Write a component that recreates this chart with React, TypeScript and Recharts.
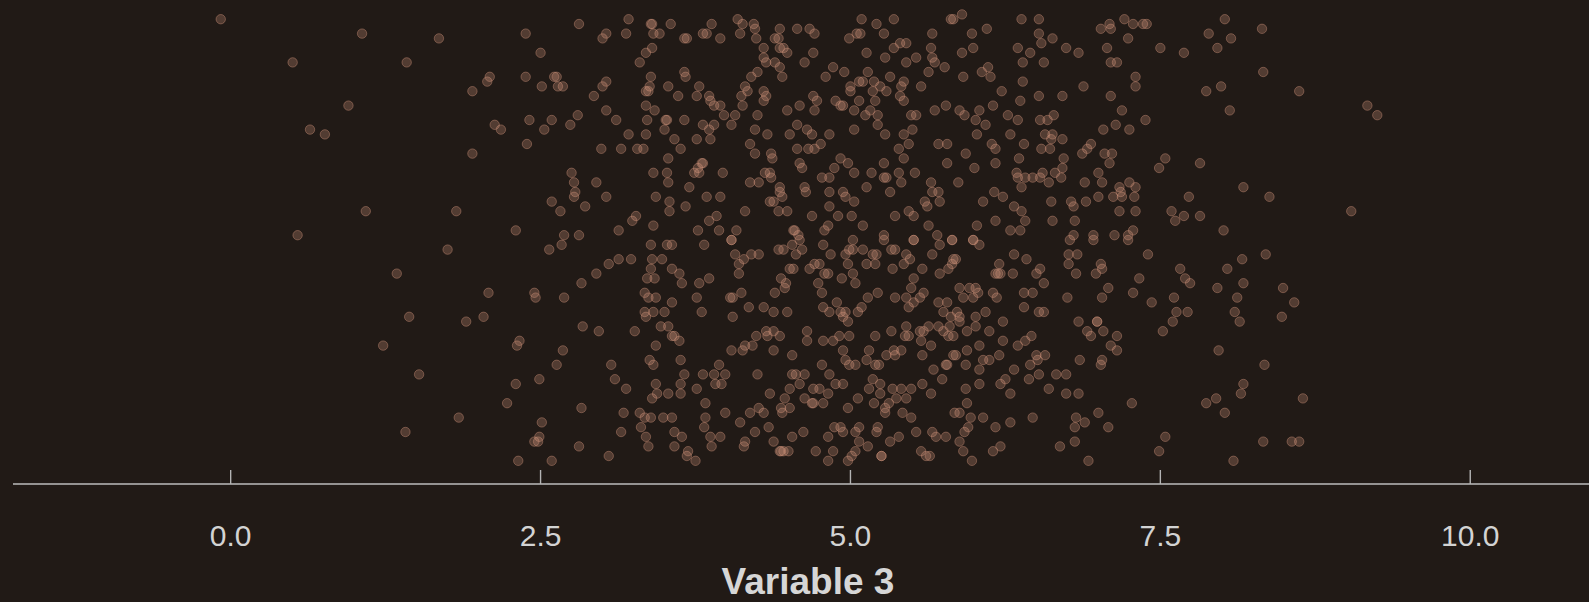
import React from 'react';
import { ScatterChart, Scatter, XAxis, YAxis, Label } from 'recharts';

// Each entry: [Variable 3 value, vertical jitter (0 = bottom of band, 1 = top)]
const tailLow: [number, number][] = [
  [-0.08,0.96],[0.50,0.87],[1.06,0.93],[1.68,0.92],[1.42,0.87],[0.95,0.78],[0.64,0.73],[0.76,0.72],[1.09,0.56],[0.54,0.51],
  [1.34,0.43],[1.44,0.34],[1.23,0.28],[1.52,0.22],[1.41,0.10],
];

const lowUpper: [number, number][] = [
  [2.38,0.93],[2.81,0.95],[3.21,0.96],[2.50,0.89],[3.00,0.92],[3.03,0.93],[3.19,0.93],[3.39,0.95],[3.40,0.95],[3.41,0.93],
  [3.46,0.93],[3.55,0.95],[3.66,0.92],[3.68,0.92],[3.81,0.93],[3.84,0.93],[3.88,0.95],[3.95,0.92],[4.09,0.96],[4.13,0.95],
  [4.11,0.93],[4.22,0.95],[4.23,0.94],[4.24,0.92],[3.40,0.90],[3.35,0.89],[3.30,0.87],[2.09,0.84],[2.07,0.83],[1.95,0.81],
  [2.38,0.84],[2.51,0.82],[2.61,0.84],[2.63,0.84],[2.64,0.82],[2.68,0.82],[2.93,0.80],[3.00,0.82],[3.03,0.83],[3.03,0.77],
  [3.11,0.75],[3.35,0.81],[3.38,0.82],[3.39,0.84],[3.37,0.81],[3.35,0.78],[3.42,0.77],[3.36,0.75],[3.53,0.82],[3.61,0.80],
  [3.66,0.85],[3.67,0.84],[3.78,0.82],[3.76,0.80],[3.86,0.80],[3.87,0.79],[3.90,0.78],[3.95,0.78],[3.98,0.76],[4.07,0.76],
  [4.04,0.74],[4.12,0.80],[4.13,0.78],[4.15,0.82],[4.17,0.81],[4.20,0.84],[4.25,0.85],[4.25,0.76],[4.23,0.73],[3.51,0.75],
  [3.52,0.75],[3.50,0.73],[3.66,0.75],[3.81,0.74],[3.90,0.74],[3.86,0.73],[3.76,0.71],[3.87,0.71],[3.58,0.71],[3.63,0.69],
  [3.21,0.72],[3.35,0.72],[2.13,0.74],[2.18,0.73],[2.41,0.75],[2.53,0.73],[2.59,0.75],[2.80,0.76],[2.74,0.74],[2.39,0.70],
  [1.95,0.68],[2.99,0.69],[3.15,0.69],[3.28,0.69],[3.33,0.69],[3.53,0.67],[3.80,0.66],[3.81,0.66],[3.77,0.65],[3.78,0.64],
  [3.74,0.64],[3.97,0.64],[4.19,0.70],[4.23,0.68],[4.19,0.62],[4.26,0.62],[3.41,0.64],[3.52,0.64],[3.53,0.62],[2.75,0.64],
  [2.95,0.62],[2.77,0.62],[2.78,0.60],[2.77,0.59],[2.59,0.58],[2.66,0.56],[2.86,0.57],[3.03,0.59],[1.82,0.56],[2.30,0.52],
  [2.69,0.51],[2.81,0.51],[3.13,0.52],[3.27,0.55],[3.24,0.54],[3.41,0.53],[3.43,0.59],[3.54,0.58],[3.54,0.56],[3.67,0.57],
  [3.70,0.61],[3.84,0.59],[3.95,0.59],[3.86,0.54],[3.92,0.55],[3.77,0.52],[3.94,0.52],[4.08,0.52],[4.15,0.56],[4.04,0.50],
];

const midUpper: [number, number][] = [
  [4.43,0.94],[4.39,0.92],[4.42,0.92],[4.30,0.90],[4.43,0.90],[4.46,0.90],[4.49,0.89],[4.30,0.88],[4.32,0.87],[4.39,0.87],
  [4.43,0.86],[4.57,0.94],[4.67,0.94],[4.71,0.93],[5.09,0.96],[4.99,0.92],[5.05,0.93],[5.08,0.93],[5.21,0.95],[5.27,0.93],
  [5.35,0.96],[5.13,0.89],[4.70,0.89],[4.63,0.87],[5.40,0.91],[5.45,0.91],[5.35,0.90],[5.28,0.88],[5.66,0.93],[5.65,0.90],
  [5.66,0.88],[5.68,0.87],[5.53,0.88],[5.45,0.87],[5.81,0.96],[5.83,0.96],[5.90,0.97],[5.98,0.93],[5.99,0.90],[5.90,0.89],
  [6.10,0.94],[6.38,0.96],[6.52,0.96],[6.52,0.93],[6.63,0.92],[6.54,0.91],[6.74,0.90],[6.84,0.89],[6.35,0.90],[6.45,0.89],
  [6.39,0.87],[6.56,0.87],[6.11,0.86],[6.06,0.85],[6.13,0.84],[5.91,0.84],[5.76,0.86],[5.63,0.85],[5.57,0.82],[5.43,0.83],
  [5.41,0.82],[5.32,0.84],[5.19,0.83],[5.24,0.82],[5.29,0.81],[5.18,0.81],[5.20,0.79],[5.22,0.76],[5.14,0.85],[5.07,0.83],
  [5.10,0.83],[5.07,0.79],[5.00,0.82],[5.00,0.81],[4.95,0.85],[4.86,0.86],[4.80,0.84],[4.70,0.80],[4.73,0.79],[4.59,0.78],
  [4.49,0.77],[4.71,0.77],[4.45,0.84],[4.30,0.81],[4.32,0.80],[4.30,0.79],[4.88,0.79],[4.94,0.78],[4.92,0.78],[5.03,0.77],
  [5.12,0.76],[5.16,0.77],[5.40,0.80],[5.43,0.79],[5.49,0.76],[5.53,0.76],[5.68,0.77],[5.77,0.78],[5.88,0.77],[5.92,0.76],
  [6.04,0.77],[6.01,0.75],[6.09,0.74],[6.15,0.78],[6.22,0.81],[6.39,0.83],[6.37,0.79],[6.52,0.80],[6.71,0.80],[6.27,0.76],
  [6.35,0.75],[6.53,0.75],[6.59,0.75],[6.64,0.76],[4.57,0.74],[4.51,0.72],[4.65,0.73],[4.69,0.72],[4.76,0.70],[4.83,0.72],
  [4.33,0.72],[5.03,0.73],[5.22,0.74],[5.28,0.72],[5.43,0.72],[5.50,0.73],[5.47,0.70],[5.39,0.69],[5.71,0.70],[5.78,0.70],
  [6.02,0.72],[6.29,0.72],[6.14,0.70],[6.17,0.69],[6.40,0.70],[6.57,0.72],[6.63,0.72],[6.62,0.71],[6.71,0.71],[6.54,0.69],
  [6.61,0.69],[4.36,0.68],[4.37,0.67],[4.57,0.69],[4.66,0.69],[4.71,0.69],[4.92,0.67],[4.98,0.66],[4.87,0.65],[5.03,0.64],
  [5.17,0.64],[5.27,0.66],[5.43,0.67],[5.39,0.64],[5.52,0.64],[5.27,0.63],[5.29,0.63],[5.41,0.62],[5.65,0.62],[5.78,0.66],
  [5.93,0.68],[5.87,0.62],[6.00,0.65],[6.17,0.66],[6.36,0.67],[6.72,0.67],[6.71,0.65],[6.65,0.64],[6.55,0.64],[6.34,0.64],
  [6.35,0.63],[6.41,0.63],[6.47,0.63],[6.53,0.63],[6.60,0.62],[6.70,0.63],[6.38,0.61],[4.59,0.66],[4.61,0.65],[4.35,0.64],
  [4.31,0.64],[4.36,0.63],[4.43,0.61],[4.77,0.63],[4.83,0.63],[4.63,0.61],[4.64,0.60],[4.83,0.60],[4.94,0.60],[4.96,0.59],
  [5.03,0.58],[4.83,0.57],[5.13,0.61],[5.32,0.60],[5.66,0.60],[5.71,0.60],[5.60,0.58],[5.62,0.57],[5.72,0.58],[6.07,0.58],
  [6.16,0.60],[6.23,0.59],[6.32,0.57],[6.38,0.56],[6.41,0.54],[6.62,0.58],[6.63,0.54],[6.78,0.58],[6.80,0.57],[6.81,0.54],
  [4.43,0.60],[4.45,0.59],[4.35,0.58],[4.38,0.58],[4.42,0.56],[4.49,0.56],[4.69,0.55],[4.90,0.55],[5.01,0.55],[4.82,0.53],
  [4.79,0.52],[5.10,0.53],[5.36,0.55],[5.47,0.56],[5.51,0.55],[5.63,0.53],[6.02,0.53],[6.17,0.54],[6.29,0.52],[6.37,0.52],
  [6.80,0.51],[4.54,0.52],[4.55,0.52],[4.58,0.51],[5.27,0.51],[5.70,0.51],[5.82,0.50],[5.99,0.50],[5.51,0.50],[5.02,0.50],
];

const highUpper: [number, number][] = [
  [7.02,0.94],[7.09,0.95],[7.10,0.94],[7.21,0.96],[7.28,0.95],[7.36,0.95],[7.39,0.95],[7.24,0.92],[7.07,0.90],[7.10,0.87],
  [7.15,0.87],[7.30,0.84],[7.30,0.82],[7.50,0.90],[7.69,0.89],[7.89,0.93],[8.02,0.96],[8.07,0.92],[7.96,0.90],[8.32,0.94],
  [8.33,0.85],[7.87,0.81],[7.99,0.82],[8.06,0.77],[8.62,0.81],[9.17,0.78],[9.25,0.76],[6.88,0.82],[7.10,0.80],[7.19,0.77],
  [7.38,0.75],[7.14,0.74],[7.04,0.73],[7.25,0.73],[6.94,0.70],[6.91,0.69],[6.87,0.68],[7.05,0.68],[7.11,0.68],[7.09,0.66],
  [7.54,0.67],[7.49,0.65],[7.82,0.66],[8.17,0.61],[8.38,0.59],[9.04,0.56],[7.00,0.64],[7.03,0.62],[6.89,0.62],[7.25,0.62],
  [7.30,0.61],[7.17,0.61],[7.12,0.59],[7.18,0.60],[7.19,0.59],[7.29,0.59],[7.00,0.59],[6.90,0.58],[7.17,0.56],[7.30,0.56],
  [7.73,0.59],[7.59,0.56],[7.69,0.55],[7.62,0.54],[7.82,0.55],[8.01,0.52],[7.13,0.51],[6.96,0.51],[7.24,0.51],[7.28,0.52],
];

const lowLower: [number, number][] = [
  [1.75,0.48],[2.57,0.48],[2.67,0.49],[3.39,0.49],[3.52,0.49],[3.56,0.49],[3.82,0.49],[4.04,0.50],[3.13,0.46],[3.23,0.46],
  [3.05,0.45],[2.95,0.43],[2.83,0.41],[3.40,0.46],[3.48,0.46],[3.39,0.44],[3.56,0.44],[3.36,0.42],[3.42,0.42],[3.62,0.43],
  [3.64,0.41],[3.34,0.39],[3.37,0.38],[3.43,0.38],[3.56,0.37],[3.78,0.41],[3.86,0.42],[3.76,0.38],[3.80,0.35],[4.07,0.47],
  [4.10,0.45],[4.14,0.46],[4.20,0.47],[4.26,0.47],[4.10,0.43],[4.12,0.39],[4.03,0.38],[4.05,0.38],[4.05,0.34],[4.18,0.36],
  [2.08,0.39],[1.90,0.33],[2.04,0.34],[2.45,0.39],[2.46,0.38],[2.69,0.38],[2.84,0.32],[2.97,0.31],[3.26,0.31],[3.34,0.35],
  [3.35,0.34],[3.41,0.35],[3.50,0.35],[3.47,0.32],[3.53,0.32],[3.58,0.30],[3.56,0.30],[3.62,0.29],[3.43,0.28],[2.33,0.29],
  [2.31,0.28],[2.68,0.27],[2.63,0.24],[3.07,0.24],[3.38,0.25],[3.41,0.24],[3.63,0.25],[4.04,0.27],[4.13,0.27],[4.15,0.28],
  [4.21,0.28],[4.24,0.30],[2.30,0.20],[2.49,0.21],[2.23,0.16],[1.84,0.13],[3.10,0.21],[3.19,0.19],[3.66,0.22],[3.63,0.20],
  [3.63,0.18],[3.53,0.18],[3.43,0.20],[3.44,0.18],[3.40,0.17],[3.81,0.22],[3.90,0.22],[3.99,0.22],[3.94,0.24],[3.91,0.20],
  [3.96,0.20],[3.76,0.19],[3.83,0.16],[3.99,0.14],[4.25,0.22],[2.83,0.15],[3.17,0.14],[3.30,0.14],[3.34,0.13],[3.39,0.13],
  [3.31,0.11],[3.49,0.13],[3.56,0.13],[3.83,0.13],[3.82,0.11],[4.19,0.14],[4.11,0.12],[4.26,0.15],[2.51,0.12],[2.49,0.09],
  [2.45,0.08],[2.48,0.08],[3.15,0.10],[3.35,0.09],[3.37,0.07],[3.58,0.10],[3.64,0.09],[3.58,0.07],[3.87,0.09],[3.95,0.09],
  [3.88,0.07],[3.69,0.06],[3.68,0.05],[3.75,0.04],[4.23,0.10],[4.15,0.08],[4.14,0.07],[2.81,0.07],[3.05,0.05],[2.32,0.04],
  [2.59,0.04],
];

const midLower: [number, number][] = [
  [4.42,0.48],[4.46,0.48],[4.53,0.49],[4.59,0.50],[4.56,0.47],[4.61,0.48],[4.78,0.49],[4.84,0.47],[4.96,0.47],[4.99,0.48],
  [5.02,0.48],[5.10,0.48],[5.18,0.47],[5.21,0.47],[5.27,0.50],[5.33,0.48],[5.36,0.48],[5.45,0.47],[5.48,0.46],[5.43,0.45],
  [5.51,0.50],[5.66,0.47],[5.72,0.49],[5.83,0.46],[5.85,0.46],[5.82,0.50],[5.99,0.50],[6.04,0.49],[6.32,0.47],[6.42,0.46],
  [6.77,0.50],[6.76,0.47],[6.83,0.47],[6.76,0.45],[6.82,0.43],[4.54,0.44],[4.51,0.44],[4.67,0.44],[4.71,0.45],[4.75,0.45],
  [4.79,0.43],[4.82,0.43],[4.98,0.45],[5.02,0.43],[5.13,0.45],[5.20,0.45],[5.34,0.44],[5.58,0.44],[5.72,0.43],[5.79,0.44],
  [5.82,0.45],[6.17,0.43],[6.20,0.45],[6.19,0.43],[6.21,0.43],[6.31,0.43],[6.50,0.43],[6.53,0.44],[6.56,0.41],[4.44,0.42],
  [4.48,0.41],[4.47,0.40],[4.39,0.39],[4.74,0.41],[4.77,0.39],[4.93,0.42],[5.04,0.41],[5.22,0.39],[5.36,0.38],[5.51,0.42],
  [5.49,0.40],[5.45,0.38],[5.47,0.36],[5.51,0.37],[5.56,0.38],[5.59,0.39],[5.88,0.40],[5.96,0.40],[6.01,0.40],[6.03,0.39],
  [5.99,0.38],[5.91,0.38],[6.15,0.39],[6.18,0.38],[6.40,0.39],[6.40,0.36],[6.47,0.39],[6.52,0.35],[6.56,0.35],[6.75,0.38],
  [4.30,0.36],[4.38,0.35],[4.49,0.35],[4.78,0.36],[4.83,0.35],[4.89,0.37],[4.92,0.35],[4.94,0.34],[4.98,0.33],[4.96,0.35],
  [5.06,0.35],[5.09,0.36],[5.14,0.38],[5.71,0.37],[5.78,0.37],[5.75,0.35],[5.81,0.34],[5.86,0.35],[5.88,0.34],[5.88,0.33],
  [6.01,0.34],[6.01,0.32],[6.09,0.35],[6.23,0.33],[6.84,0.33],[4.32,0.31],[4.38,0.31],[4.33,0.30],[4.43,0.30],[4.38,0.27],
  [4.65,0.31],[4.65,0.29],[4.78,0.29],[4.86,0.29],[4.91,0.30],[4.99,0.30],[4.94,0.27],[5.20,0.30],[5.33,0.31],[5.45,0.32],
  [5.47,0.30],[5.44,0.30],[5.56,0.31],[5.59,0.31],[5.57,0.29],[5.65,0.28],[5.63,0.32],[5.71,0.32],[5.75,0.31],[5.79,0.30],
  [5.83,0.30],[5.80,0.32],[5.94,0.31],[6.04,0.28],[5.94,0.27],[6.12,0.31],[6.23,0.29],[6.35,0.28],[6.41,0.29],[6.46,0.30],
  [4.53,0.26],[4.77,0.24],[4.96,0.25],[4.99,0.24],[5.04,0.24],[5.13,0.25],[5.15,0.27],[5.20,0.24],[5.23,0.24],[5.29,0.26],
  [5.35,0.27],[5.36,0.26],[5.41,0.27],[5.58,0.26],[5.67,0.23],[5.77,0.24],[5.78,0.24],[5.83,0.26],[5.85,0.26],[5.93,0.24],
  [6.04,0.23],[6.07,0.25],[6.12,0.25],[6.20,0.26],[6.32,0.23],[6.45,0.24],[6.50,0.26],[6.51,0.25],[6.57,0.26],[4.53,0.22],
  [4.56,0.22],[4.63,0.22],[4.51,0.19],[4.59,0.20],[4.70,0.19],[4.75,0.19],[4.82,0.18],[4.83,0.22],[4.88,0.20],[4.94,0.20],
  [5.18,0.21],[5.24,0.20],[5.15,0.19],[5.24,0.18],[5.34,0.19],[5.41,0.19],[5.49,0.19],[5.58,0.20],[5.74,0.21],[5.93,0.19],
  [6.04,0.20],[6.21,0.20],[6.25,0.21],[6.44,0.21],[6.52,0.22],[6.66,0.22],[6.74,0.22],[6.60,0.19],[6.74,0.18],[6.84,0.18],
  [4.35,0.18],[4.47,0.17],[4.44,0.15],[4.45,0.14],[4.51,0.15],[4.63,0.17],[4.69,0.16],[4.78,0.16],[4.70,0.16],[4.30,0.14],
  [4.98,0.15],[5.06,0.17],[5.19,0.16],[5.28,0.15],[5.28,0.14],[5.31,0.16],[5.37,0.17],[5.45,0.17],[5.42,0.14],[5.49,0.13],
  [5.65,0.18],[5.94,0.16],[5.84,0.14],[5.88,0.14],[5.97,0.13],[6.07,0.13],[6.29,0.18],[6.47,0.13],[6.82,0.13],[4.34,0.11],
  [4.38,0.08],[4.53,0.09],[4.62,0.10],[4.82,0.09],[4.87,0.11],[4.92,0.11],[4.94,0.10],[4.86,0.06],[5.04,0.10],[5.07,0.11],
  [5.07,0.08],[5.14,0.07],[5.21,0.10],[5.22,0.11],[5.32,0.08],[5.39,0.09],[5.53,0.10],[5.66,0.10],[5.69,0.09],[5.77,0.09],
  [5.88,0.08],[5.92,0.10],[5.95,0.11],[5.91,0.06],[6.17,0.11],[6.29,0.12],[6.81,0.11],[6.81,0.08],[6.69,0.07],[6.21,0.07],
  [6.15,0.06],[4.43,0.06],[4.46,0.06],[4.50,0.06],[4.44,0.06],[4.72,0.06],[4.82,0.04],[4.98,0.04],[5.04,0.06],[5.01,0.05],
  [5.25,0.05],[5.25,0.05],[5.57,0.06],[5.61,0.05],[5.64,0.05],[5.98,0.04],
];

const highLower: [number, number][] = [
  [6.96,0.50],[7.24,0.50],[7.40,0.47],[7.02,0.45],[6.98,0.43],[7.03,0.44],[7.33,0.42],[7.28,0.39],[7.08,0.40],[7.03,0.38],
  [7.43,0.37],[7.66,0.44],[7.61,0.38],[7.70,0.42],[7.74,0.41],[7.63,0.35],[7.60,0.33],[7.72,0.35],[7.52,0.31],[8.04,0.44],
  [8.16,0.46],[8.35,0.47],[7.96,0.40],[8.17,0.41],[8.12,0.38],[8.10,0.35],[8.14,0.33],[8.49,0.40],[8.58,0.37],[8.48,0.34],
  [6.99,0.33],[6.99,0.33],[6.91,0.31],[6.94,0.30],[7.04,0.31],[7.15,0.30],[7.10,0.28],[7.15,0.27],[7.03,0.25],[7.02,0.24],
  [6.85,0.25],[7.97,0.27],[8.34,0.24],[8.17,0.20],[8.15,0.18],[7.87,0.16],[7.95,0.17],[8.02,0.14],[7.27,0.16],[8.65,0.17],
  [7.00,0.14],[6.89,0.12],[7.08,0.11],[7.54,0.09],[7.49,0.06],[8.33,0.08],[8.56,0.08],[8.62,0.08],[6.92,0.04],[8.09,0.04],
];

const points = [
  ...tailLow, ...lowUpper, ...midUpper, ...highUpper, ...lowLower, ...midLower, ...highLower,
].map(([x, y]) => ({ x, y }));

const X_TICKS = [0, 2.5, 5, 7.5, 10];
const X_TICK_LABELS = ['0.0', '2.5', '5.0', '7.5', '10.0'];
const X_TITLE = 'Variable 3';

const BG = '#211a16';
const DOT = '#d4977c';
const FONT = '"Liberation Sans", Arial, sans-serif';

const Dot = (props: any) => {
  const { cx, cy } = props;
  if (cx == null || cy == null) return null;
  return (
    <circle
      cx={cx}
      cy={cy}
      r={4.7}
      fill={DOT}
      fillOpacity={0.28}
      stroke={DOT}
      strokeOpacity={0.4}
      strokeWidth={1}
    />
  );
};

const Tick = (props: any) => {
  const { x, y, payload } = props;
  const idx = X_TICKS.indexOf(payload.value);
  return (
    <g>
      <line x1={x} x2={x} y1={y - 14} y2={y} stroke="#b4b4b4" strokeWidth={1.4} />
      <text
        x={x}
        y={y + 62}
        textAnchor="middle"
        fill="#d3d3d3"
        fontSize={30}
        fontFamily={FONT}
      >
        {idx >= 0 ? X_TICK_LABELS[idx] : String(payload.value)}
      </text>
    </g>
  );
};

const Title = (props: any) => {
  const vb = props.viewBox || { x: 13, y: 484, width: 1576, height: 118 };
  return (
    <text
      x={vb.x + vb.width / 2 + 7}
      y={vb.y + 110}
      textAnchor="middle"
      fill="#d6d6d6"
      fontSize={37}
      fontWeight="bold"
      fontFamily={FONT}
    >
      {X_TITLE}
    </text>
  );
};

export default function App() {
  return (
    <div style={{ position: 'absolute', left: 0, top: 0, width: 1589, height: 602, background: BG, overflow: 'hidden' }}>
      <ScatterChart width={1589} height={602} margin={{ top: 0, right: 0, bottom: 0, left: 13 }}>
        <XAxis
          dataKey="x"
          type="number"
          domain={[-1.756, 10.958]}
          allowDataOverflow
          ticks={X_TICKS}
          interval={0}
          height={118}
          tickSize={0}
          tickMargin={0}
          tickLine={false}
          axisLine={{ stroke: '#bdbdbd', strokeWidth: 1.4 }}
          tick={<Tick />}
        >
          <Label content={<Title />} />
        </XAxis>
        <YAxis dataKey="y" type="number" domain={[-0.00833, 1]} allowDataOverflow hide />
        <Scatter data={points} shape={<Dot />} isAnimationActive={false} />
      </ScatterChart>
    </div>
  );
}
